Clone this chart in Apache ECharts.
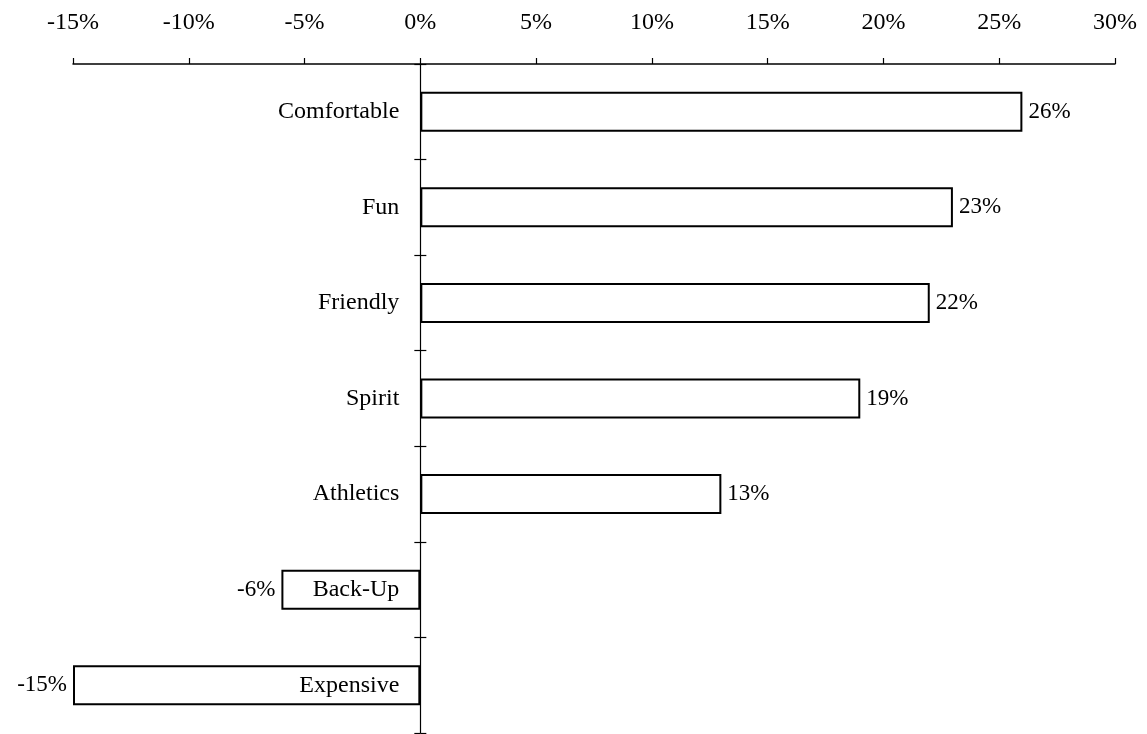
<!DOCTYPE html>
<html><head><meta charset="utf-8">
<script src="https://cdn.jsdelivr.net/npm/echarts@6/dist/echarts.min.js"></script>
<style>html,body{margin:0;padding:0;background:#fff}#c{width:1147px;height:734px}</style>
</head><body><div id="c"></div>
<script>
const categories = ['Comfortable','Fun','Friendly','Spirit','Athletics','Back-Up','Expensive'];
const values = [26, 23, 22, 19, 13, -6, -15];
const xMin = -15, xMax = 30, xStep = 5;

const font = 'Liberation Serif';
const ink = {color: '#000', fontFamily: font};
const chart = echarts.init(document.getElementById('c'));
chart.setOption({
  animation: false,
  backgroundColor: '#fff',
  grid: {left: 73, right: 32, top: 64, bottom: 1, containLabel: false, outerBoundsMode: 'none'},
  xAxis: {
    type: 'value', position: 'top', min: xMin, max: xMax, interval: xStep,
    axisLine: {show: true, lineStyle: {color: '#000', width: 1.5}},
    axisTick: {show: true, inside: false, length: 6, lineStyle: {color: '#000', width: 1.2}},
    axisLabel: Object.assign({formatter: v => v + '%', fontSize: 24, margin: 29}, ink),
    splitLine: {show: false}
  },
  yAxis: [{
    type: 'category', data: categories, inverse: true,
    axisLine: {show: true, onZero: true, lineStyle: {color: '#000', width: 1.2}},
    axisTick: {show: true, inside: false, length: 6, lineStyle: {color: '#000', width: 1.2}},
    axisLabel: {show: false},
    splitLine: {show: false}
  }, {
    type: 'category', data: categories, inverse: true, position: 'left',
    axisLine: {show: false, onZero: true, onZeroAxisIndex: 0},
    axisTick: {show: true, inside: true, length: 6, lineStyle: {color: '#000', width: 1.2}},
    axisLabel: {show: false},
    splitLine: {show: false}
  }],
  series: [{
    type: 'bar', data: values.map(v => ({
      value: v,
      label: {position: v >= 0 ? 'right' : 'left'}
    })),
    barWidth: 40,
    itemStyle: {color: '#fff', borderColor: '#000', borderWidth: 2},
    label: Object.assign({show: true, formatter: p => p.value + '%', fontSize: 23, distance: 6}, ink),
    emphasis: {disabled: true},
    z: 2
  }, {
    type: 'scatter', symbolSize: 0, silent: true,
    itemStyle: {opacity: 1},
    data: categories.map(c => [0, c]),
    label: Object.assign({show: true, position: 'left', distance: 21, formatter: p => p.value[1], fontSize: 24, opacity: 1}, ink),
    emphasis: {disabled: true},
    z: 5
  }]
});
</script></body></html>
